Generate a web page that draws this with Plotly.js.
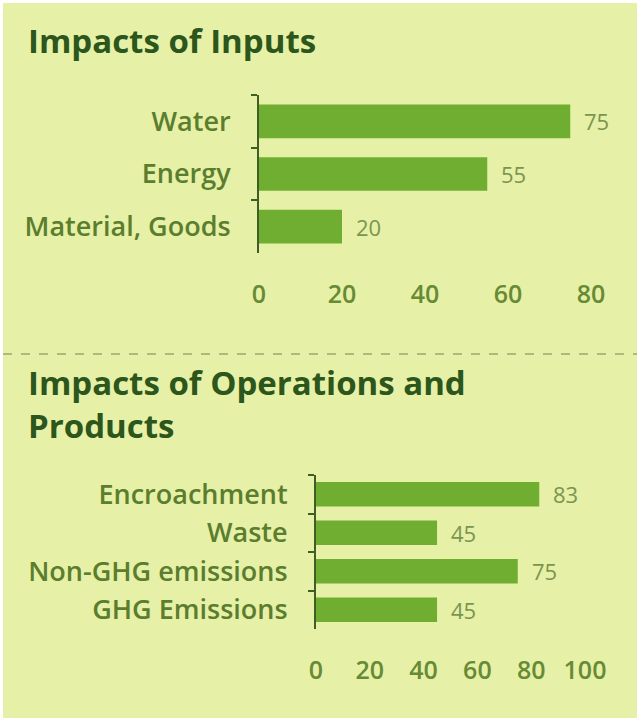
<!DOCTYPE html>
<html>
<head>
<meta charset="utf-8">
<script src="https://cdn.plot.ly/plotly-3.0.1.min.js"></script>
<style>
html,body{margin:0;padding:0;background:#ffffff;}
#chart{width:641px;height:721px;}
</style>
</head>
<body>
<div id="chart"></div>
<script>
// ---- data ----
const inputCats = ['Water', 'Energy', 'Material, Goods'];
const inputVals = [75, 55, 20];
const inputTicks = [0, 20, 40, 60, 80];

const opsCats = ['Encroachment', 'Waste', 'Non-GHG emissions', 'GHG Emissions'];
const opsVals = [83, 45, 75, 45];
const opsTicks = [0, 20, 40, 60, 80, 100];

const titleTop = 'Impacts of Inputs';
const titleBottom = 'Impacts of Operations and<br>Products';

// ---- styling ----
const W = 641, H = 721;
const px = v => v / W;
const py = v => 1 - v / H;
const BAR = '#6fae30';
const LABEL = '#5b7d2e';
const TICK = '#678a34';
const VALUE = '#7b9550';
const TITLE = '#2c561b';
const BG = '#e6f0a6';
const FONT = 'Open Sans, sans-serif';

const traces = [
  {
    type: 'bar', orientation: 'h', x: inputVals, y: inputCats,
    xaxis: 'x', yaxis: 'y',
    marker: {color: BAR},
    hoverinfo: 'none'
  },
  {
    type: 'bar', orientation: 'h', x: opsVals, y: opsCats,
    xaxis: 'x2', yaxis: 'y2',
    marker: {color: BAR},
    hoverinfo: 'none'
  }
];

const xCommon = {
  showgrid: false, zeroline: false, showline: false, ticks: '',
  tickfont: {family: FONT, size: 25, color: TICK, weight: 600},
  fixedrange: true, ticklabelstandoff: 24
};
const yCommon = {
  type: 'category', autorange: 'reversed',
  showgrid: false, zeroline: false,
  showline: true, linecolor: '#3f5f22', linewidth: 2,
  ticks: 'outside', tickson: 'boundaries', ticklen: 6, tickwidth: 2, tickcolor: '#3f5f22',
  tickfont: {family: FONT, size: 27, color: LABEL, weight: 600},
  ticklabelstandoff: 21,
  fixedrange: true
};

const valueAnn = (vals, cats, xr, yr) => vals.map((v, i) => ({
  x: v, y: cats[i], xref: xr, yref: yr, text: String(v),
  xanchor: 'left', yanchor: 'middle', xshift: 12, yshift: 0, showarrow: false,
  font: {family: FONT, size: 22, color: VALUE}
}));

const titleAnn = (text, yTop) => ({
  text: '<b>' + text.split('<br>').join('</b><br><b>') + '</b>',
  xref: 'paper', yref: 'paper', x: px(26), y: py(yTop),
  xanchor: 'left', yanchor: 'top', showarrow: false, align: 'left',
  font: {family: FONT, size: 33, color: TITLE}
});

const layout = {
  width: W, height: H,
  margin: {l: 0, r: 0, t: 0, b: 0},
  paper_bgcolor: '#ffffff', plot_bgcolor: 'rgba(0,0,0,0)',
  showlegend: false, bargap: 0.36,
  font: {family: FONT},
  xaxis: Object.assign({}, xCommon, {
    domain: [px(259), px(591)], range: [0, 80], anchor: 'y',
    tickvals: inputTicks, ticktext: inputTicks.map(String), tickmode: 'array'
  }),
  yaxis: Object.assign({}, yCommon, {domain: [py(253), py(95)], anchor: 'x'}),
  xaxis2: Object.assign({}, xCommon, {
    domain: [px(316), px(585)], range: [0, 100], anchor: 'y2',
    tickvals: opsTicks, ticktext: opsTicks.map(String), tickmode: 'array'
  }),
  yaxis2: Object.assign({}, yCommon, {domain: [py(629), py(475)], anchor: 'x2'}),
  shapes: [
    {type: 'rect', xref: 'paper', yref: 'paper', x0: px(3), x1: px(637), y0: py(718), y1: py(3),
     fillcolor: BG, line: {width: 0}, layer: 'below'},
    {type: 'line', xref: 'paper', yref: 'paper', x0: px(3), x1: px(637), y0: py(354), y1: py(354),
     line: {color: '#9aa86e', width: 1.5, dash: 'dash'}}
  ],
  annotations: [
    titleAnn(titleTop, 16),
    titleAnn(titleBottom, 358)
  ].concat(valueAnn(inputVals, inputCats, 'x', 'y'))
   .concat(valueAnn(opsVals, opsCats, 'x2', 'y2'))
};

Plotly.newPlot('chart', traces, layout, {displayModeBar: false, staticPlot: true});
</script>
</body>
</html>
